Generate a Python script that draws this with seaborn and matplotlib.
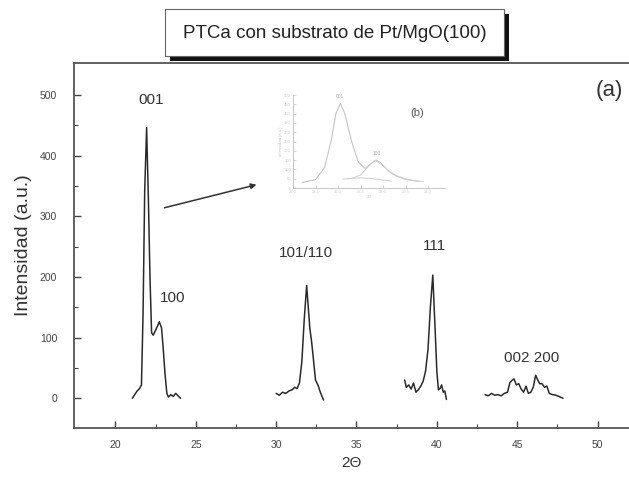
import numpy as np
import matplotlib.pyplot as plt
import matplotlib.patches as mpatches
import seaborn as sns

# Estilo
sns.set_style('white')
plt.rcParams['font.family'] = ['Liberation Sans', 'DejaVu Sans']

x_001 = [21.05, 21.2, 21.35, 21.5, 21.62, 21.72, 21.82, 21.94, 22.05, 22.15, 22.25,
         22.35, 22.46, 22.6, 22.73, 22.87, 22.98, 23.08, 23.2, 23.3, 23.45, 23.6, 23.75, 23.9, 24.05]
y_001 = [0, 6, 12, 16, 22, 140, 340, 446, 330, 200, 108,
         104, 110, 118, 126, 116, 80, 42, 8, 2, 6, 3, 8, 4, 0]

x_101 = [30.0, 30.2, 30.4, 30.6, 30.8, 31.0, 31.15, 31.3, 31.45, 31.6, 31.75, 31.9,
         32.0, 32.1, 32.2, 32.3, 32.45, 32.6, 32.75, 32.95]
y_101 = [8, 5, 10, 8, 12, 14, 18, 16, 25, 60, 130, 186,
         150, 115, 95, 70, 30, 22, 10, -3]

x_111 = [38.0, 38.1, 38.25, 38.4, 38.55, 38.7, 38.85, 39.0, 39.15, 39.3, 39.45, 39.6,
         39.75, 39.9, 40.0, 40.1, 40.2, 40.3, 40.4, 40.5, 40.6]
y_111 = [30, 18, 22, 15, 25, 10, 14, 20, 28, 45, 80, 150,
         203, 110, 45, 14, 16, 22, 10, 12, -2]

x_002 = [43.0, 43.2, 43.4, 43.6, 43.8, 44.0, 44.2, 44.4, 44.55, 44.7, 44.8, 44.95, 45.1,
         45.25, 45.4, 45.55, 45.7, 45.85, 46.0, 46.15, 46.25, 46.4, 46.55, 46.7, 46.85,
         47.0, 47.2, 47.4, 47.6, 47.85]
y_002 = [6, 4, 8, 5, 6, 4, 8, 10, 26, 30, 32, 22, 24,
         15, 10, 20, 8, 10, 18, 38, 32, 24, 24, 18, 20,
         8, 6, 5, 3, 0]

segmentos = [(x_001, y_001), (x_101, y_101), (x_111, y_111), (x_002, y_002)]

picos = ['001', '100', '101/110', '111', '002 200']
picos_x = [22.2, 23.58, 31.86, 39.88, 45.9]
picos_y = [492, 165, 240, 251, 67]

# Inset (b): ajuste do pico 001/100
xb_total = [21.2, 21.5, 21.7, 21.85, 21.95, 22.05, 22.15, 22.3, 22.45, 22.6, 22.75, 22.85,
            22.95, 23.1, 23.3, 23.55, 23.8]
yb_total = [30, 45, 110, 260, 400, 455, 400, 250, 140, 105, 135, 150,
            135, 95, 65, 45, 35]
xb_comp = [22.1, 22.3, 22.5, 22.65, 22.82, 23.0, 23.2, 23.5, 23.9]
yb_comp = [48, 52, 70, 110, 150, 120, 75, 45, 35]
xb_base = [22.2, 22.5, 22.8, 23.0, 23.2]
yb_base = [50, 55, 50, 42, 38]

# Figura
fig = plt.figure(figsize=(6.29, 4.79), dpi=100)
ax = fig.add_axes([0.1176, 0.1065, 0.8824, 0.7625])

for xs, ys in segmentos:
    sns.lineplot(x=xs, y=ys, ax=ax, color='#2a2a2a', linewidth=1.1)

ax.set_xlim(17.42, 51.96)
ax.set_ylim(-49, 553)
ax.set_xticks([20, 25, 30, 35, 40, 45, 50])
ax.set_xticks(np.arange(22.5, 50, 5), minor=True)
ax.set_yticks([0, 100, 200, 300, 400, 500])
ax.set_yticks(np.arange(50, 550, 100), minor=True)
ax.tick_params(axis='both', which='both', direction='in', colors='#444444',
               labelsize=7.5, top=False, right=False, bottom=True, left=True)
ax.tick_params(axis='both', which='major', length=5, width=1)
ax.tick_params(axis='both', which='minor', length=3, width=0.8)
ax.tick_params(axis='x', pad=9)
ax.tick_params(axis='y', pad=12)
for lado in ['left', 'bottom', 'top']:
    ax.spines[lado].set_color('#555555')
    ax.spines[lado].set_linewidth(1.3)
ax.spines['right'].set_visible(False)

ax.set_xlabel('2Θ', fontsize=11, color='#333333', labelpad=4)
ax.set_ylabel('Intensidad (a.u.)', fontsize=14, color='#333333', labelpad=6)

for txt, px, py in zip(picos, picos_x, picos_y):
    ax.text(px, py, txt, fontsize=11, color='#333333', ha='center', va='center')
ax.text(0.965, 0.925, '(a)', transform=ax.transAxes, fontsize=16,
        color='#333333', ha='center', va='center')

# Seta para o inset
ax.annotate('', xy=(28.78, 352), xytext=(23.05, 314),
            arrowprops=dict(arrowstyle='-|>', color='#333333', lw=1.1,
                            mutation_scale=8, shrinkA=0, shrinkB=0))

# Inset (b)
axb = fig.add_axes([0.466, 0.6075, 0.2417, 0.194])
sns.lineplot(x=xb_total, y=yb_total, ax=axb, color='#c4c4c4', linewidth=0.8)
sns.lineplot(x=xb_comp, y=yb_comp, ax=axb, color='#cfcfcf', linewidth=0.7)
sns.lineplot(x=xb_base, y=yb_base, ax=axb, color='#cfcfcf', linewidth=0.7)
axb.set_xlim(21.0, 24.38)
axb.set_ylim(0, 500)
axb.set_xticks(np.arange(21.0, 24.1, 0.5))
axb.set_yticks(np.arange(0, 501, 50))
axb.tick_params(axis='both', direction='in', length=2, width=0.5, colors='#c8c8c8',
                labelsize=3, pad=1.5, bottom=True, left=True)
axb.set_xlabel('2Θ', fontsize=3, color='#c0c0c0', labelpad=1)
axb.set_ylabel('Intensidad (a.u.)', fontsize=3, color='#c0c0c0', labelpad=1)
for lado in ['top', 'right']:
    axb.spines[lado].set_visible(False)
for lado in ['left', 'bottom']:
    axb.spines[lado].set_color('#bdbdbd')
    axb.spines[lado].set_linewidth(0.6)
axb.patch.set_alpha(0)
axb.text(22.04, 485, '001', fontsize=3.5, color='#aaaaaa', ha='center')
axb.text(22.85, 175, '100', fontsize=3.5, color='#aaaaaa', ha='center')
axb.text(23.76, 403, '(b)', fontsize=8, color='#555555', ha='center', va='center')

# Título em caixa com sombra
fig.patches.append(mpatches.Rectangle((170 / 629, 418 / 479), 339 / 629, 47 / 479,
                                      transform=fig.transFigure, facecolor='#111111',
                                      edgecolor='none', zorder=1))
fig.patches.append(mpatches.Rectangle((165 / 629, 423 / 479), 339 / 629, 47 / 479,
                                      transform=fig.transFigure, facecolor='white',
                                      edgecolor='#666666', linewidth=0.8, zorder=2))
fig.text(334.5 / 629, 446 / 479, 'PTCa con substrato de Pt/MgO(100)', fontsize=13.5,
         color='#222222', ha='center', va='center', zorder=3)

fig.savefig('out.png', dpi=100)
